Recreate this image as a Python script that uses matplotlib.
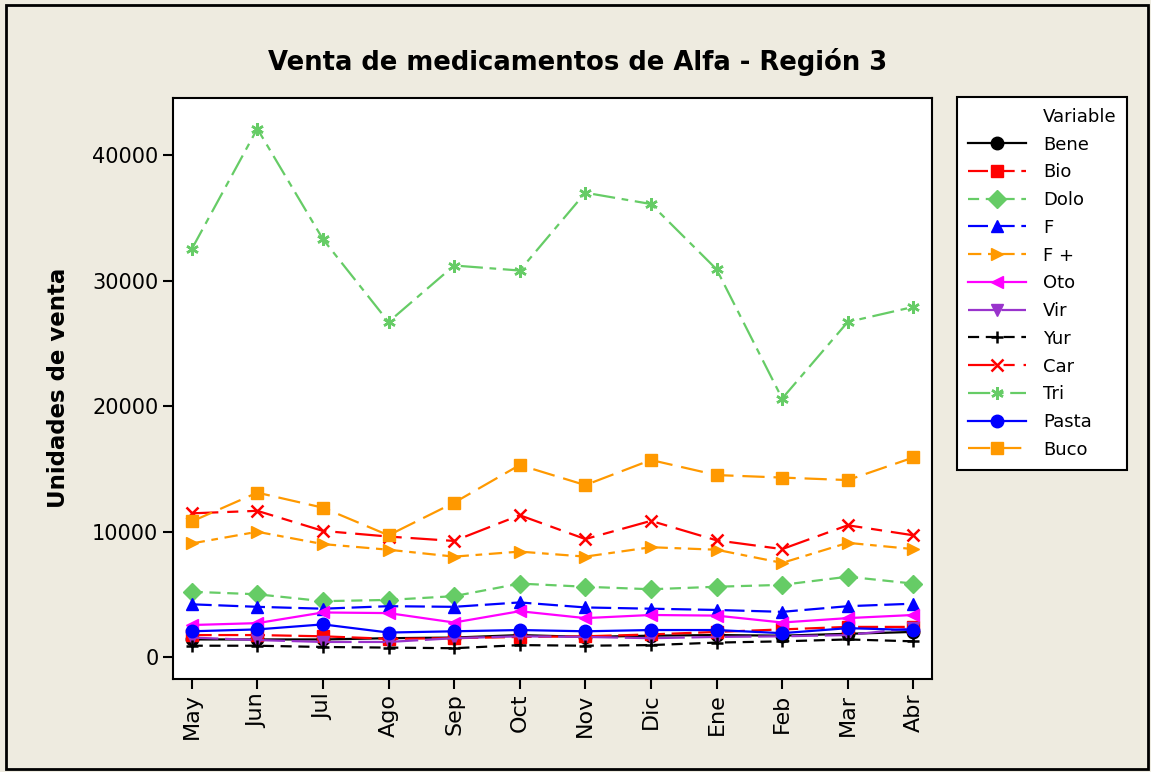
import matplotlib
matplotlib.use("Agg")
import matplotlib.pyplot as plt
from matplotlib.lines import Line2D
from matplotlib.patches import Rectangle

meses = ["May", "Jun", "Jul", "Ago", "Sep", "Oct", "Nov", "Dic", "Ene", "Feb", "Mar", "Abr"]

bene = [1400, 1400, 1400, 1500, 1550, 1750, 1600, 1700, 1750, 1700, 1850, 2000]
bio = [1750, 1750, 1650, 1450, 1500, 1600, 1650, 1800, 2000, 2200, 2400, 2400]
dolo = [5200, 5000, 4450, 4550, 4850, 5850, 5600, 5400, 5600, 5750, 6400, 5850]
f = [4200, 4000, 3850, 4050, 4000, 4350, 3950, 3850, 3750, 3600, 4050, 4250]
f_mas = [9050, 9980, 9000, 8550, 8000, 8400, 8000, 8750, 8550, 7500, 9100, 8600]
oto = [2550, 2700, 3550, 3500, 2750, 3650, 3100, 3350, 3300, 2750, 3100, 3350]
vir = [1550, 1350, 1200, 1200, 1500, 1650, 1600, 1500, 1600, 1650, 1750, 2300]
yur = [900, 900, 800, 750, 700, 950, 900, 950, 1150, 1250, 1400, 1250]
car = [11450, 11650, 10050, 9600, 9250, 11300, 9400, 10850, 9300, 8600, 10500, 9700]
tri = [32500, 42100, 33300, 26700, 31200, 30800, 37000, 36100, 30900, 20600, 26700, 27900]
pasta = [2050, 2200, 2600, 1950, 2050, 2150, 2050, 2150, 2150, 1900, 2300, 2150]
buco = [10800, 13100, 11900, 9700, 12300, 15300, 13700, 15700, 14500, 14300, 14100, 15900]

green = "#66CC66"
orange = "#FF9900"
asterisco = (6, 2, 0)

# (nombre, datos, color, marcador, patron de linea)
series = [
    ("Bene", bene, "black", "o", "-"),
    ("Bio", bio, "red", "s", (0, (9, 3))),
    ("Dolo", dolo, green, "D", (0, (5, 3))),
    ("F", f, "blue", "^", (0, (9, 3))),
    ("F +", f_mas, orange, ">", (0, (6, 3, 3, 3))),
    ("Oto", oto, "magenta", "<", "-"),
    ("Vir", vir, "#9933CC", "v", (0, (12, 3))),
    ("Yur", yur, "black", "+", (0, (5, 3))),
    ("Car", car, "red", "x", (0, (12, 4, 5, 4))),
    ("Tri", tri, green, asterisco, (0, (10, 3, 3, 3))),
    ("Pasta", pasta, "blue", "o", "-"),
    ("Buco", buco, orange, "s", (0, (10, 4))),
]

plt.rcParams["font.family"] = "DejaVu Sans"

fig = plt.figure(figsize=(11.51, 7.72), dpi=100)
fig.patch.set_facecolor("#EEEBE0")
fig.patches.append(Rectangle((0.005, 0.004), 0.9925, 0.99, transform=fig.transFigure,
                             fill=False, edgecolor="black", linewidth=2))

ax = fig.add_axes([0.1503, 0.1205, 0.6592, 0.7529])
x = list(range(len(meses)))
handles = [Line2D([], [], linestyle="none", label="Variable")]
for name, vals, color, marker, ls in series:
    lineal = marker in ("x", "+", asterisco)
    mew = 1.8 if lineal else 1
    line, = ax.plot(x, vals, color=color, marker=marker, linestyle=ls, linewidth=1.6,
                    markersize=9, markeredgewidth=mew, label=name)
    handles.append(line)

ax.set_xlim(-0.285, 11.28)
ax.set_ylim(-1750, 44570)
ax.set_xticks(x)
ax.set_xticklabels(meses, rotation=90, fontsize=16)
ax.set_yticks([0, 10000, 20000, 30000, 40000])
ax.tick_params(axis="y", labelsize=15)
ax.tick_params(direction="out", length=7, width=1.5)
for s in ax.spines.values():
    s.set_linewidth(1.5)
ax.set_ylabel("Unidades de venta", fontsize=16.5, fontweight="bold", labelpad=16)
fig.text(0.502, 0.92, "Venta de medicamentos de Alfa - Región 3", ha="center", va="center",
         fontsize=18.6, fontweight="bold")

leg = fig.legend(handles=handles, loc="upper left", bbox_to_anchor=(0.8315, 0.8744),
                 borderaxespad=0, fontsize=13, handlelength=3.2, labelspacing=0.54,
                 borderpad=0.6, handletextpad=0.95, fancybox=False, framealpha=1,
                 edgecolor="black")
leg.get_frame().set_linewidth(1.5)

fig.savefig("out.png", dpi=100, facecolor=fig.get_facecolor())
